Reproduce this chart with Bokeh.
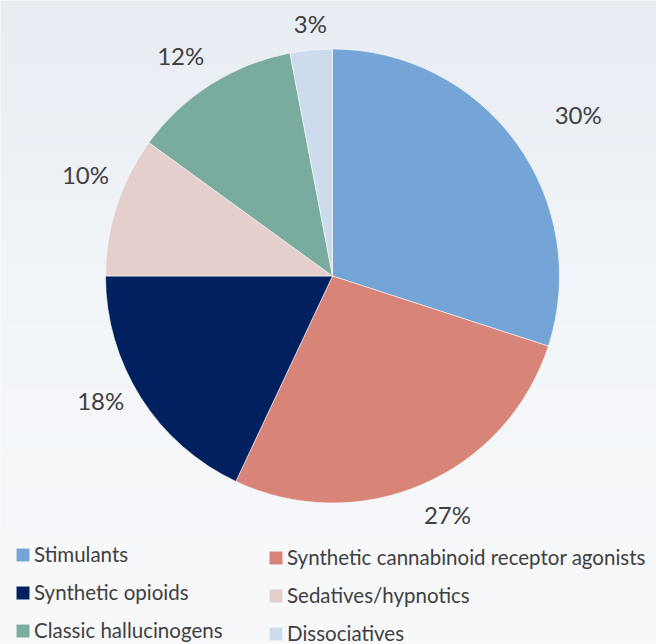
import numpy as np
from bokeh.plotting import figure
from bokeh.models import Legend, LegendItem, ColumnDataSource
from bokeh.embed import file_html
from bokeh.resources import INLINE
from bokeh.core.properties import value

# ---- data ----
categories = ["Stimulants", "Synthetic cannabinoid receptor agonists", "Synthetic opioids",
              "Sedatives/hypnotics", "Classic hallucinogens", "Dissociatives"]
shares = [30, 27, 18, 10, 12, 3]
colors = ["#75a5d6", "#d88479", "#012060", "#e5cfcd", "#7aab9f", "#cddcec"]
labels = [f"{v}%" for v in shares]

# ---- layout / style (not data) ----
label_radius = [294, 265, 263, 267, 268, 253]
label_nudge_deg = [2.7, -2.3, 4.2, 4.3, -2.1, 0.4]

W, H = 656, 644
CX, CY, R = 332, H - 275.5, 227
TEXT = "#404040"
FONT = "Lato"

p = figure(width=W, height=H, x_range=(0, W), y_range=(0, H),
           output_backend="svg", toolbar_location=None, min_border=0,
           x_axis_location=None, y_axis_location=None)
p.grid.visible = False
p.outline_line_color = None
p.background_fill_color = "#f3f5f8"
p.border_fill_color = "#f3f5f8"

# subtle vertical background gradient (bottom row first)
n = 128
ys = np.linspace(0, 1, n)  # 0 = bottom, 1 = top
bottom_c = np.array([248, 249, 251])
mid_c = np.array([243, 246, 249])
top_c = np.array([232, 237, 244])
img = np.zeros((n, 1), dtype=np.uint32)
view = img.view(dtype=np.uint8).reshape((n, 1, 4))
for i, t in enumerate(ys):
    if t < 0.5:
        c = bottom_c + (mid_c - bottom_c) * (t / 0.5)
    else:
        c = mid_c + (top_c - mid_c) * ((t - 0.5) / 0.5)
    view[i, 0, 0:3] = c.astype(np.uint8)
    view[i, 0, 3] = 255
p.image_rgba(image=[img], x=0, y=0, dw=W, dh=H)

# ---- wedges ----
total = float(sum(shares))
fr = np.array(shares) / total
cum_end = np.cumsum(fr)
cum_start = cum_end - fr
src = ColumnDataSource(dict(
    cat=categories, share=shares, color=colors,
    start=np.pi / 2 - 2 * np.pi * cum_end,
    end=np.pi / 2 - 2 * np.pi * cum_start,
))
wr = p.wedge(x=CX, y=CY, radius=R, start_angle="start", end_angle="end",
             fill_color="color", line_color="white", line_width=0.8, line_alpha=0.7,
             source=src)

# ---- percentage labels ----
theta = 2 * np.pi * (cum_start + fr / 2) + np.radians(label_nudge_deg)
lr = np.array(label_radius)
p.text(x=CX + lr * np.sin(theta), y=CY + lr * np.cos(theta), text=labels,
       text_align="center", text_baseline="middle",
       text_font=value(FONT), text_font_size="24px", text_color=TEXT)

# ---- legends (two columns, row-wise order) ----
def make_legend(idx, loc):
    items = [LegendItem(label=categories[i], renderers=[wr], index=i) for i in idx]
    leg = Legend(items=items, location=loc, orientation="vertical",
                 glyph_width=17, glyph_height=17, label_standoff=3,
                 label_text_font=FONT, label_text_font_size="20.5px",
                 label_text_color=TEXT, label_height=20, spacing=14,
                 padding=0, margin=0, border_line_color=None,
                 background_fill_alpha=0)
    return leg

p.add_layout(make_legend([0, 2, 4], (14, 2)))
p.add_layout(make_legend([1, 3, 5], (267, -1)))

open("out.html", "w").write(file_html(p, INLINE))
